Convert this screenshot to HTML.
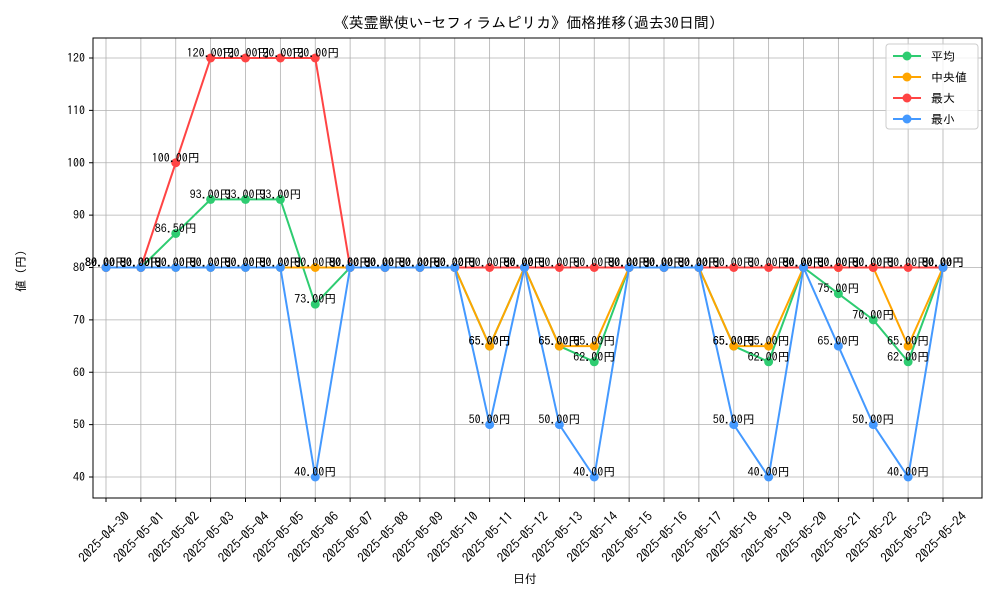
<!DOCTYPE html>
<html><head><meta charset="utf-8">
<style>
body{margin:0;background:#fff;}
svg text{font-family:"IPAGothic","Noto Sans CJK JP",sans-serif;}
</style></head>
<body>
<svg id="chart" width="1000" height="600" xmlns="http://www.w3.org/2000/svg">
<rect width="1000" height="600" fill="#fff"/>
<text x="525" y="28" font-size="15" text-anchor="middle">《英霊獣使い-セフィラムピリカ》価格推移(過去30日間)</text>
<g id="grid"></g>
<g id="series"></g>
<g id="labels"></g>
<rect x="93" y="38" width="889" height="460" fill="none" stroke="#000" stroke-width="1"/>
<g id="axes"></g>
<text x="525" y="583" font-size="12" text-anchor="middle">日付</text>
<text transform="translate(25,268) rotate(-90)" font-size="12" text-anchor="middle">値（円）</text>
<g id="legend"></g>
</svg>
<script>
const dates=["2025-04-30","2025-05-01","2025-05-02","2025-05-03","2025-05-04","2025-05-05","2025-05-06","2025-05-07","2025-05-08","2025-05-09","2025-05-10","2025-05-11","2025-05-12","2025-05-13","2025-05-14","2025-05-15","2025-05-16","2025-05-17","2025-05-18","2025-05-19","2025-05-20","2025-05-21","2025-05-22","2025-05-23","2025-05-24"];
const avgVals=[80,80,86.5,93,93,93,73,80,80,80,80,65,80,65,62,80,80,80,65,62,80,75,70,62,80];
const medianVals=[80,80,80,80,80,80,80,80,80,80,80,65,80,65,65,80,80,80,65,65,80,80,80,65,80];
const maxVals=[80,80,100,120,120,120,120,80,80,80,80,80,80,80,80,80,80,80,80,80,80,80,80,80,80];
const minVals=[80,80,80,80,80,80,40,80,80,80,80,50,80,50,40,80,80,80,50,40,80,65,50,40,80];
const yTicks=[40,50,60,70,80,90,100,110,120];
const seriesNames=["平均","中央値","最大","最小"];
const NS="http://www.w3.org/2000/svg";
const x=i=>106+i*(943-106)/(dates.length-1);
const y=v=>477-(v-40)*(477-58)/80;
function mk(tag,attrs,parent){const e=document.createElementNS(NS,tag);for(const k in attrs)e.setAttribute(k,attrs[k]);parent.appendChild(e);return e;}
const grid=document.getElementById('grid'),axes=document.getElementById('axes');
dates.forEach((d,i)=>{
  const g=mk('line',{x1:x(i),x2:x(i),y1:38,y2:498,stroke:'#b0b0b0','stroke-width':0.8},grid);
  
  
  const t=mk('line',{x1:x(i),x2:x(i),y1:498,y2:502,stroke:'#000'},axes);
  
  
  const l=mk('text',{transform:`translate(${x(i)-2},${537}) rotate(-45)`,'font-size':13,'text-anchor':'middle','dominant-baseline':'central'},axes);
  l.textContent=d;
  
  
});
yTicks.forEach(v=>{
  const g=mk('line',{x1:93,x2:982,y1:y(v),y2:y(v),stroke:'#b0b0b0','stroke-width':0.8},grid);
  
  
  const t=mk('line',{x1:89,x2:93,y1:y(v),y2:y(v),stroke:'#000'},axes);
  
  
  const l=mk('text',{x:85,y:y(v)+4,'font-size':12,'text-anchor':'end'},axes);
  l.textContent=v;
  
  
});
const all=[[avgVals,'#2ecc71','avg'],[medianVals,'#ffa500','median'],[maxVals,'#ff4444','max'],[minVals,'#4499ff','min']];
const sg=document.getElementById('series'),lg=document.getElementById('labels');
all.forEach(([vals,c,n])=>{
  const p=mk('polyline',{points:vals.map((v,i)=>x(i)+','+y(v)).join(' '),fill:'none',stroke:c,'stroke-width':2},sg);
  
  
  vals.forEach((v,i)=>{
    const ci=mk('circle',{cx:x(i),cy:y(v),r:4.5,fill:c},sg);
    
    
    const t=mk('text',{x:x(i),y:y(v)-1,'font-size':12,'text-anchor':'middle'},lg);
    t.textContent=v.toFixed(2)+'円';
    
    
  });
});
const leg=document.getElementById('legend');
const box=mk('rect',{x:886,y:44,width:92,height:85,fill:'#fff','fill-opacity':0.8,stroke:'#ccc',rx:3},leg);


all.forEach(([vals,c,n],k)=>{
  const yy=56+k*21;
  const ln=mk('line',{x1:893,x2:921,y1:yy,y2:yy,stroke:c,'stroke-width':2},leg);
  
  
  mk('circle',{cx:907,cy:yy,r:4.5,fill:c},leg);
  const t=mk('text',{x:931,y:yy+4.5,'font-size':12},leg);
  t.textContent=seriesNames[k];
  
  
});
</script>
</body></html>
